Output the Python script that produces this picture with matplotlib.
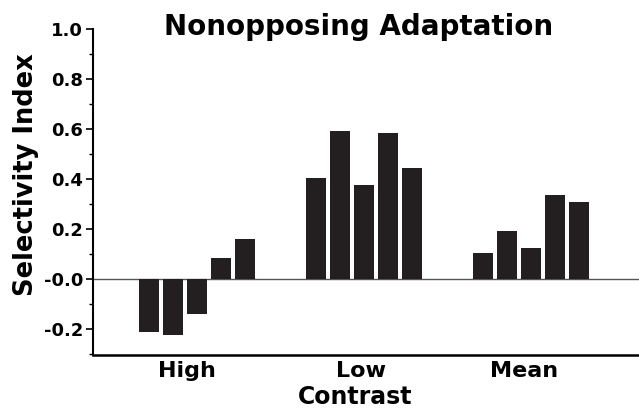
import matplotlib
matplotlib.use("Agg")
import matplotlib.pyplot as plt
import numpy as np

categories = ["High", "Low", "Mean"]
high_vals = [-0.212, -0.223, -0.14, 0.086, 0.162]
low_vals = [0.406, 0.593, 0.378, 0.584, 0.444]
mean_vals = [0.104, 0.192, 0.124, 0.336, 0.308]
ytick_vals = [-0.2, 0.0, 0.2, 0.4, 0.6, 0.8, 1.0]
ytick_labels = ["-0.2", "-0.0", "0.2", "0.4", "0.6", "0.8", "1.0"]

plt.rcParams['font.family'] = ['DejaVu Sans']
plt.rcParams['font.weight'] = 'bold'

fig = plt.figure(figsize=(6.39, 4.16), dpi=100)
ax = fig.add_axes([92.7 / 639, 1 - 355 / 416, 1 - 92.7 / 639, (355 - 29) / 416])

bar_color = "#231f20"
pitch = 0.1437
width = 0.12
offsets = (np.arange(5) - 2) * pitch
for gi, vals in enumerate([high_vals, low_vals, mean_vals]):
    ax.bar(gi + offsets, vals, width=width, color=bar_color, edgecolor='none', zorder=3)

ax.axhline(0, color="#555555", lw=1.0, zorder=2)

ax.set_xlim(-0.625, 2.647)
ax.set_ylim(-0.303, 1.0)

ax.spines['top'].set_visible(False)
ax.spines['right'].set_visible(False)
ax.spines['left'].set_linewidth(1.5)
ax.spines['bottom'].set_linewidth(1.8)

ax.set_yticks(ytick_vals)
ax.set_yticklabels(ytick_labels, fontsize=13, fontweight='bold')
ax.set_yticks(np.arange(-0.3, 1.0, 0.1), minor=True)
ax.tick_params(axis='y', which='major', direction='out', length=5, width=1.2, pad=2)
ax.tick_params(axis='y', which='minor', direction='out', length=3, width=1.0)

ax.set_xticks([-0.06, 0.98, 1.96])
ax.set_xticklabels(categories, fontsize=16, fontweight='bold')
ax.tick_params(axis='x', length=0, pad=4)

fig.text(355 / 639, 1 - 404 / 416, "Contrast", fontsize=17, fontweight='bold',
         ha='center', va='baseline')

fig.text(26 / 639, 1 - 175 / 416, "Selectivity Index", fontsize=18.5, fontweight='bold',
         ha='center', va='center', rotation=90)

fig.text(359 / 639, 1 - 35 / 416, "Nonopposing Adaptation", fontsize=20,
         fontweight='bold', ha='center', va='baseline')

fig.savefig("out.png", dpi=100)
